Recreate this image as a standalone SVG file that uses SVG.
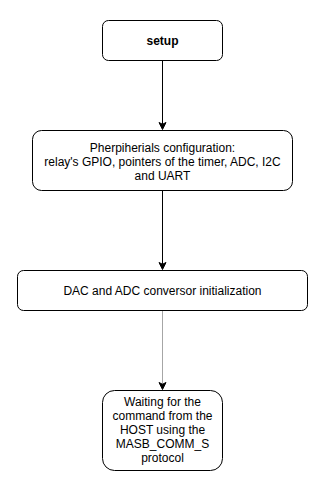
<svg xmlns="http://www.w3.org/2000/svg" width="325" height="490" viewBox="0 0 325 490">
  <style>
    .box { fill: #ffffff; stroke: #000000; stroke-width: 1; }
    .lbl { font-family: "Liberation Sans", Arial, Helvetica, sans-serif; font-size: 12px; fill: #000000; text-anchor: middle; }
    .bold { font-weight: bold; }
    .edge { fill: none; stroke: #000000; stroke-width: 1; }
    .edge.grey { stroke: #a6a6a6; }
    .head { fill: #000000; stroke: #000000; stroke-width: 1; }
  </style>
  <rect width="325" height="490" fill="#ffffff"/>

  <g id="connectors">
    <path class="edge" d="M162.5 60.5 V124"/>
    <path class="head" d="M162.5 129.5 L159 122.5 L162.5 124.25 L166 122.5 Z"/>
    <path class="edge" d="M162.5 190.5 V264"/>
    <path class="head" d="M162.5 269.5 L159 262.5 L162.5 264.25 L166 262.5 Z"/>
    <path class="edge grey" d="M162.5 310.5 V384"/>
    <path class="head" d="M162.5 389.5 L159 382.5 L162.5 384.25 L166 382.5 Z"/>
  </g>

  <g id="setup">
    <rect class="box" x="102.5" y="20.5" width="120" height="40" rx="6" ry="6"/>
    <text class="lbl bold" x="162.5" y="45">setup</text>
  </g>

  <g id="peripherals">
    <rect class="box" x="32.5" y="130.5" width="260" height="60" rx="9" ry="9"/>
    <text class="lbl" x="162.5" y="152">Pherpiherials configuration:</text>
    <text class="lbl" x="162.5" y="166">relay's GPIO, pointers of the timer, ADC, I2C</text>
    <text class="lbl" x="162.5" y="180">and UART</text>
  </g>

  <g id="converters">
    <rect class="box" x="17.5" y="270.5" width="290" height="40" rx="6" ry="6"/>
    <text class="lbl" x="162.5" y="295">DAC and ADC conversor initialization</text>
  </g>

  <g id="waiting">
    <rect class="box" x="102.5" y="390.5" width="120" height="80" rx="12" ry="12"/>
    <text class="lbl" x="162.5" y="406">Waiting for the</text>
    <text class="lbl" x="162.5" y="420">command from the</text>
    <text class="lbl" x="162.5" y="434">HOST using the</text>
    <text class="lbl" x="162.5" y="448">MASB_COMM_S</text>
    <text class="lbl" x="162.5" y="462">protocol</text>
  </g>
</svg>
